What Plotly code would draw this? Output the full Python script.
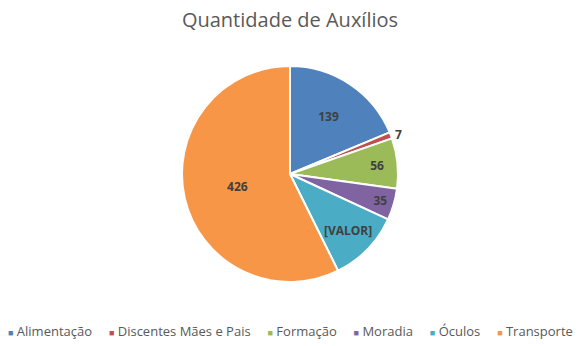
import plotly.graph_objects as go

categories = ["Alimentação", "Discentes Mães e Pais", "Formação", "Moradia", "Óculos", "Transporte"]
values = [139, 7, 56, 35, 80, 426]
value_labels = ["139", "7", "56", "35", "[VALOR]", "426"]
colors = ["#4F81BD", "#C0504D", "#9BBB59", "#8064A2", "#4BACC6", "#F79646"]
title_text = "Quantidade de Auxílios"

text_positions = ["inside", "outside", "inside", "inside", "inside", "inside"]

fig = go.Figure(go.Pie(
    labels=categories,
    values=values,
    text=value_labels,
    textinfo="text",
    textposition=text_positions,
    insidetextorientation="horizontal",
    sort=False,
    direction="clockwise",
    rotation=0,
    marker=dict(colors=colors, line=dict(color="white", width=2)),
    textfont=dict(family="Open Sans", size=12, color="#404040", weight="bold"),
    outsidetextfont=dict(family="Open Sans", size=12, color="#404040", weight="bold"),
    domain=dict(x=[0, 1], y=[1 - 282 / 346, 1 - 66 / 346]),
    automargin=False,
    showlegend=False,
    hoverinfo="label+value",
))

legend_parts = []
for name, col in zip(categories, colors):
    legend_parts.append(
        f"<span style='color:{col};font-size:9px'>■</span> {name}"
    )
legend_text = "&nbsp;&nbsp;&nbsp;&nbsp;&nbsp;".join(legend_parts)

fig.add_annotation(
    text=legend_text, x=0.5, y=1 - 331 / 346, xref="paper", yref="paper",
    showarrow=False, font=dict(family="Open Sans", size=13, color="#595959"),
    xanchor="center", yanchor="middle",
)

fig.update_layout(
    width=580, height=346,
    margin=dict(l=0, r=0, t=0, b=0),
    paper_bgcolor="white",
    title=dict(text=title_text, x=0.5, xanchor="center", y=1 - 20 / 346, yanchor="middle",
               font=dict(family="Open Sans", size=20, color="#595959")),
)

fig.write_html("out.html", config={"displayModeBar": False},
               post_script="document.body.style.margin='0';")
